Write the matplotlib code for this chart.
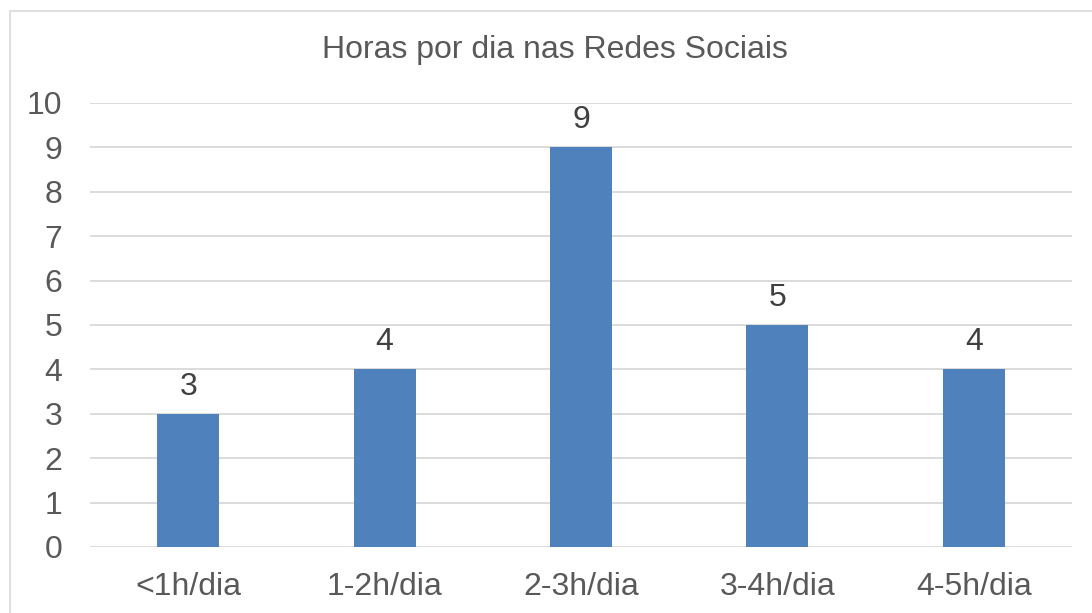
import matplotlib.pyplot as plt
from matplotlib.patches import Rectangle

categorias = ['<1h/dia', '1-2h/dia', '2-3h/dia', '3-4h/dia', '4-5h/dia']
valores = [3, 4, 9, 5, 4]

plt.rcParams['font.family'] = ['Liberation Sans', 'DejaVu Sans']

fig = plt.figure(figsize=(10.92, 6.13), dpi=100)
W, H = 1092, 613

# moldura cinza do grafico
fig.patches.append(Rectangle((10 / W, -0.1), 1.2, 1.1 - 11 / H, transform=fig.transFigure,
                             fill=False, edgecolor='#d9d9d9', linewidth=1.2))

ax = fig.add_axes([90 / W, 1 - 547 / H, 982 / W, (547 - 103) / H])

x = range(len(categorias))
barras = ax.bar(x, valores, width=0.315, color='#4f81bd', zorder=3)
for xi, v in zip(x, valores):
    ax.text(xi, v + 0.27, str(v), ha='center', va='bottom', fontsize=23, color='#404040')

ax.set_xlim(-0.5, 4.5)
ax.set_ylim(0, 10)
ax.set_yticks(range(0, 11))
ax.set_xticks(list(x))
ax.set_xticklabels(categorias)
ax.tick_params(axis='both', length=0, labelsize=23, labelcolor='#595959')
ax.tick_params(axis='x', pad=18)
ax.tick_params(axis='y', pad=20)
ax.yaxis.grid(True, color='#d9d9d9', linewidth=1.3, zorder=0)
for s in ax.spines.values():
    s.set_visible(False)

fig.text(555 / W, 1 - 50 / H, 'Horas por dia nas Redes Sociais', ha='center', va='center',
         fontsize=23, color='#595959')

fig.savefig('out.png', dpi=100)
